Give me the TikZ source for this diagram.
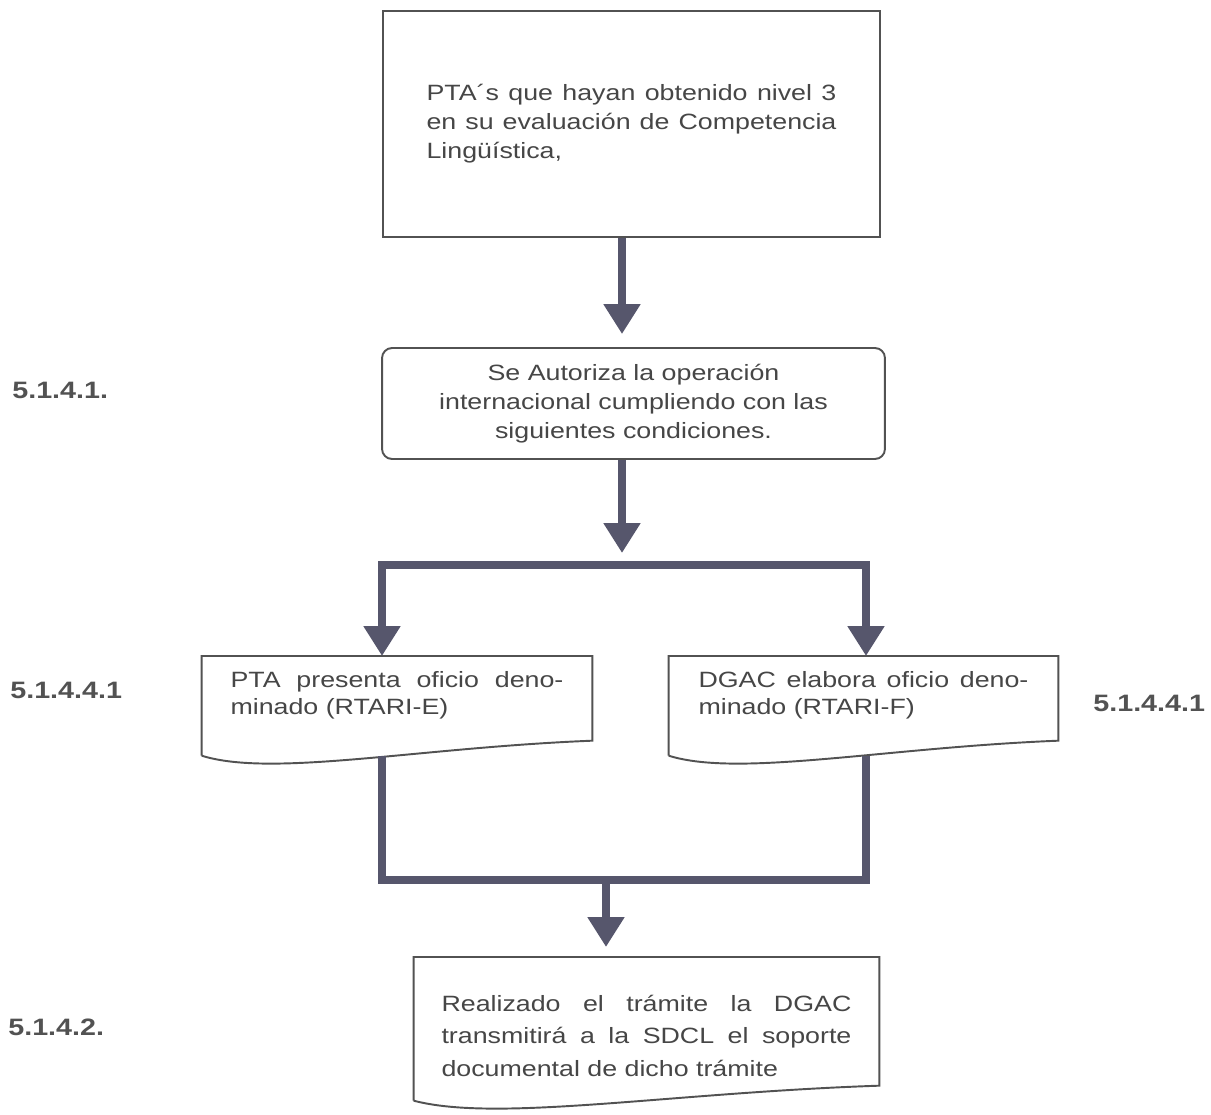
\documentclass[tikz,border=0pt]{standalone}
\usepackage{fontspec}
\setmainfont{Liberation Sans}[FakeStretch=1.21]
\usepackage{tikz}
\usetikzlibrary{calc,positioning,arrows.meta,shapes}

\definecolor{flowgray}{RGB}{86,86,108}
\definecolor{framegray}{RGB}{82,82,82}
\definecolor{inkgray}{RGB}{70,70,70}

\hyphenpenalty=10000

% outline of a document box, wavy lower edge
\newcommand{\docframe}[1]{%
  \draw[boxline] (#1.south west) -- (#1.north west) -- (#1.north east)
    -- ($(#1.south east)+(0,-15)$)
    .. controls ($(#1.south west)!0.55!(#1.south east)+(0,-8)$)
    and ($(#1.south west)!0.18!(#1.south east)+(0,22)$) .. (#1.south west);}

\tikzset{
  boxline/.style={draw=framegray, line width=1.1pt},
  boxtext/.style={text=inkgray, font=\fontsize{12.6}{16.5}\selectfont},
  reqbox/.style={boxline, boxtext, minimum width=9.94cm, minimum height=4.52cm,
    text width=8.2cm, align=justify, inner sep=0pt},
  authbox/.style={boxline, boxtext, rounded corners=0.2cm, minimum width=10.06cm,
    minimum height=2.22cm, align=center, inner sep=0pt},
  docbox/.style={boxtext, font=\fontsize{12.6}{15.3}\selectfont, align=justify,
    inner ysep=0pt, text height=0.62cm, text depth=1.36cm},
  steplabel/.style={text=framegray, font=\fontsize{13.5}{16}\selectfont\bfseries,
    anchor=west, inner sep=0pt},
  flowline/.style={draw=flowgray, line width=5pt},
  flow/.style={flowline, -{Triangle[width=20pt,length=17pt]}},
  splitflow/.style={flowline, {Triangle[width=20pt,length=17pt]}-{Triangle[width=20pt,length=17pt]}}
}

\begin{document}
\begin{tikzpicture}[x=0.02cm, y=-0.02cm]
  \useasboundingbox (0,0) rectangle (1211,1115);

  \node[reqbox] (req) at (631.5,124)
    {PTA´s que hayan obtenido nivel 3\linebreak en su evaluación de Competencia\linebreak Lingüística,};
  \node[authbox] (auth) at (633.5,403.5)
    {Se Autoriza la operación\\internacional cumpliendo con las\\siguientes condiciones.};

  \node[docbox, text width=6.66cm, minimum width=7.8cm, anchor=north] (pta) at (397,656)
    {PTA presenta oficio deno-\linebreak minado (RTARI-E)};
  \node[docbox, text width=6.6cm, minimum width=7.78cm, anchor=north] (dgac) at (863.5,656)
    {DGAC elabora oficio deno-\linebreak minado (RTARI-F)};
  \node[docbox, text width=8.2cm, minimum width=9.3cm, anchor=north,
        font=\fontsize{12.6}{18.5}\selectfont, text height=1.08cm, text depth=1.78cm] (final) at (646.5,957)
    {Realizado el trámite la DGAC\linebreak transmitirá a la SDCL el soporte\linebreak documental de dicho trámite};
  \docframe{pta}
  \docframe{dgac}
  \docframe{final}

  \node[steplabel] (l1) at (12,390) {5.1.4.1.};
  \node[steplabel] (l2) at (10,690) {5.1.4.4.1};
  \node[steplabel] (l3) at (1093,703) {5.1.4.4.1};
  \node[steplabel] (l4) at (8,1027) {5.1.4.2.};

  \coordinate (spine) at (622,0);
  \coordinate (splitL) at (382,565);
  \coordinate (splitR) at (866,565);
  \coordinate (mergeL) at (382,880);
  \coordinate (mergeR) at (866,880);
  \coordinate (merge) at (606,880);

  \draw[flow] (req.south -| spine) -- ($(auth.north -| spine)+(0,-13)$);
  \draw[flow] (auth.south -| spine) -- ($(splitL -| spine)+(0,-12)$);
  \draw[splitflow] (pta.north -| splitL) -- (splitL) -- (splitR) -- (dgac.north -| splitR);
  \draw[flowline] (pta.south -| mergeL) -- (mergeL) -- (mergeR) -- (dgac.south -| mergeR);
  \draw[flow] (merge) -- ($(final.north -| merge)+(0,-10)$);
\end{tikzpicture}
\end{document}
